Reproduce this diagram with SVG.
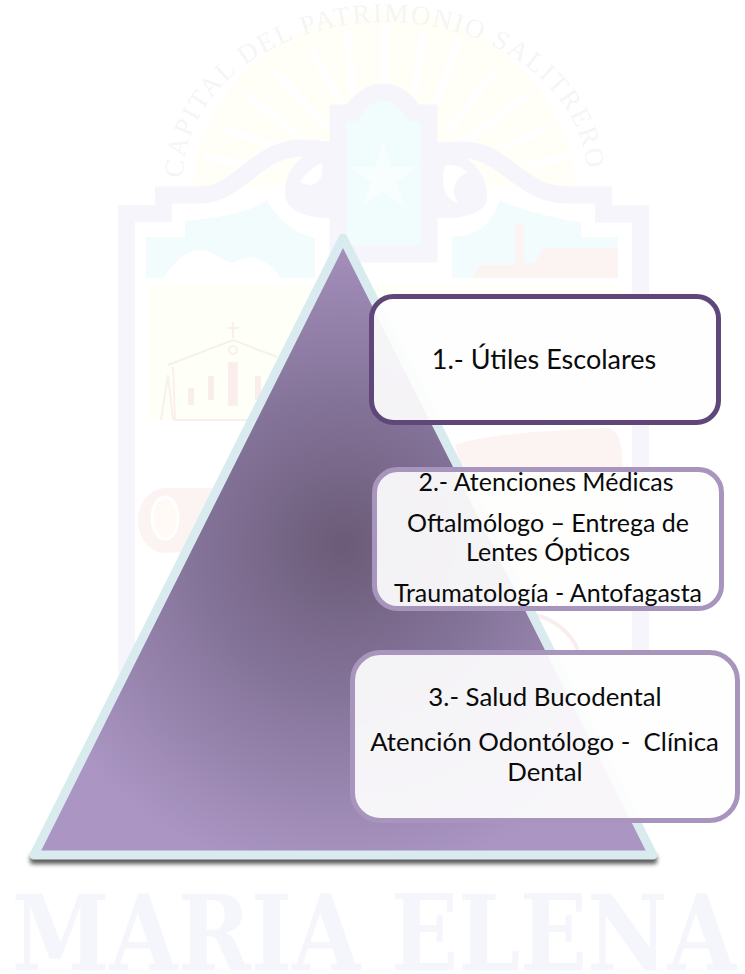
<svg xmlns="http://www.w3.org/2000/svg" xmlns:xlink="http://www.w3.org/1999/xlink" width="745" height="974" viewBox="0 0 745 974">
<style>
.t{font-family:Lato,"Noto Sans",sans-serif;font-size:25px;fill:#0a0a0a;text-anchor:middle}
.box{fill:#fefefe;fill-opacity:.92}
.band{fill:none;stroke:#f5f5fb;stroke-width:17}
.pink{fill:#fbf4f2}
.ink{fill:none;stroke:#f9f0ee;stroke-width:2}
</style>
<defs>
<radialGradient id="g" gradientUnits="userSpaceOnUse" cx="343" cy="545" r="335">
<stop offset="0" stop-color="#6b5b77"/><stop offset=".45" stop-color="#85749a"/><stop offset="1" stop-color="#ab96c3"/>
</radialGradient>
<filter id="sh" x="-5%" y="-200%" width="110%" height="500%"><feGaussianBlur stdDeviation="2"/></filter>
<filter id="soft" x="-5%" y="-5%" width="110%" height="110%"><feGaussianBlur stdDeviation=".7"/></filter>
<path id="arc" d="M183 178A202 156 0 0 1 587 178"/>
</defs>
<rect width="745" height="974" fill="#fff"/>
<g id="watermark" filter="url(#soft)">
<path d="M193 186C196 90 290 9 390 9C480 9 570 90 576 186Z" fill="#fffef7"/>
<path d="M385 27V83M348 33L352 93M313 53L340 100M277 72L325 125M248 95L303 140M227 130L277 147M207 157L247 165M423 37L415 90M458 43L437 100M493 73L450 130M527 95L467 140M543 130L507 147M567 157L530 165" stroke="#fff" stroke-width="7" stroke-linecap="round" fill="none"/>
<text font-family="Liberation Serif,serif" font-size="27" fill="#f5f5f5"><textPath href="#arc" xlink:href="#arc" textLength="555">CAPITAL DEL PATRIMONIO SALITRERO</textPath></text>
<path d="M146 278V237H185V221C220 218 250 212 267 200C280 225 300 235 315 238V278Z" fill="#f2fcfc"/>
<path d="M163 278C175 262 185 250 200 250C215 250 222 262 232 263C240 258 248 256 256 258C268 262 275 270 281 278Z" fill="#fff"/>
<path d="M452 278V237C480 235 490 225 500 200C520 210 560 220 581 222V237H618V278Z" fill="#f2fcfc"/>
<path class="pink" d="M472 278L480 265H515V223H524V263H535L543 248H618V278Z"/>
<rect x="148" y="285" width="472" height="135" fill="#fefff6"/>
<path d="M343 250V120L358 117C362 105 372 98 383 98C395 98 404 105 408 117L421 120V248Z" fill="#f0fdfc"/>
<path d="M383 142L391 167H417L396 182L405 207L383 192L362 207L371 182L350 167H375Z" fill="#f8fefd"/>
<path class="band" d="M126.500 690V213.500H163.500V195H200C240 195 255 148 303 148C315 148 325 150 338 152"/>
<path class="band" d="M338 255V113H352C360 100 370 92 383 92C396 92 406 100 414 113H429V254H338"/>
<path class="band" d="M429 152C445 150 450 150 463 150C505 150 520 195 567 195H603.500V214H640.500V690"/>
<path id="scroll-left" d="M330 150C300 150 285 170 285 193C285 210 305 218 330 218Z" fill="#f5f5fb"/>
<path d="M322 163C325 180 315 190 300 182C308 170 315 166 322 163Z" fill="#fff"/>
<path id="scroll-right" d="M437 150C465 150 487 170 487 197C487 212 465 220 437 218Z" fill="#f5f5fb"/>
<path d="M445 165C440 185 445 200 458 203C450 190 455 178 468 172C460 166 452 164 445 165Z" fill="#fff"/>
<path d="M168 365L233 340L277 357M173 367L175 420H281" class="ink"/>
<path d="M161 420L168 375L173 420M233 322V338M227 328H239" class="ink"/>
<circle cx="233" cy="350" r="4" class="ink"/>
<path d="M191 388V405M211 376V400M258 376V400" stroke="#f9eeec" stroke-width="6"/>
<rect x="229" y="363" width="8" height="42" class="ink" style="fill:#f9eeec"/>
<g id="log"><path class="pink" d="M165 488H225V550L165 553C150 553 138 538 138 520C138 503 150 488 165 488Z"/>
<ellipse cx="165" cy="518" rx="13" ry="21" fill="#fffaf5" stroke="#fff" stroke-width="3"/></g>
<path class="pink" d="M455 445C470 440 500 432 607 428Q618 430 621 445L632 560L500 600Z"/>
<path d="M535 615C550 618 570 630 578 650" fill="none" stroke="#f9eeec" stroke-width="4"/>
<text x="12" y="970" font-family="DejaVu Serif,serif" font-weight="700" font-size="105" fill="#f5f5fc" textLength="724" lengthAdjust="spacingAndGlyphs">MARIA ELENA</text>
</g>
<g id="connectors"></g>
<g id="pyramid">
<rect x="30" y="855" width="627" height="9" rx="3" fill="#333" opacity=".8" filter="url(#sh)"/>
<path d="M343 238L653 855H34Z" fill="url(#g)" stroke="#daebf0" stroke-width="9" stroke-linejoin="round"/>
</g>
<g id="node1">
<rect class="box" x="371.500" y="296.500" width="347" height="126" rx="22" stroke="#5f4879" stroke-width="5"/>
<text class="t" style="font-size:27px" x="544" y="369">1.- Útiles Escolares</text>
</g>
<g id="node2">
<rect class="box" x="374.500" y="469.500" width="347" height="139" rx="23" stroke="#a795bd" stroke-width="5"/>
<text class="t" x="546" y="491">2.- Atenciones Médicas</text>
<text class="t" x="548" y="532">Oftalmólogo – Entrega de</text>
<text class="t" x="548" y="561">Lentes Ópticos</text>
<text class="t" x="548" y="602">Traumatología - Antofagasta</text>
</g>
<g id="node3">
<rect class="box" x="352.500" y="652.500" width="385" height="168" rx="28" stroke="#a795bd" stroke-width="5"/>
<text class="t" style="font-size:25.800px" x="545" y="706">3.- Salud Bucodental</text>
<text class="t" style="font-size:25.800px" x="544.500" y="751" xml:space="preserve">Atención Odontólogo -  Clínica</text>
<text class="t" style="font-size:25.800px" x="545" y="781">Dental</text>
</g>
</svg>
